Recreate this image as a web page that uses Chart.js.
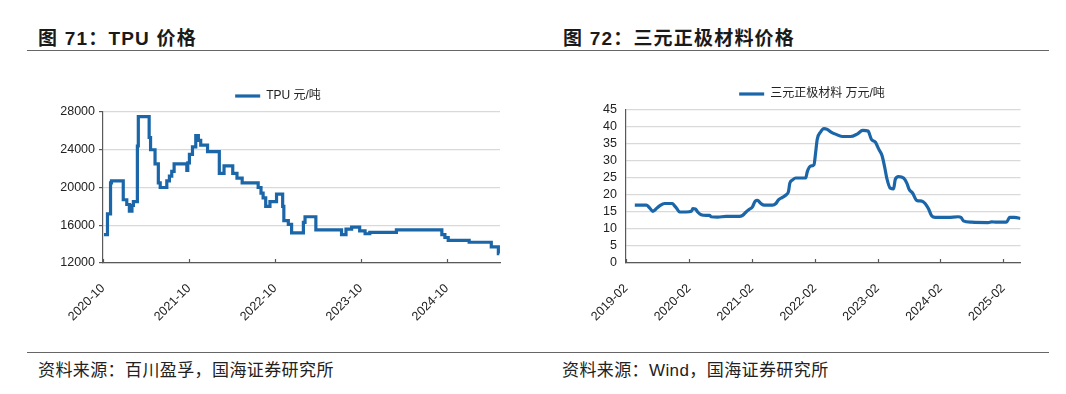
<!DOCTYPE html>
<html>
<head>
<meta charset="utf-8">
<script src="https://cdn.jsdelivr.net/npm/chart.js@4/dist/chart.umd.min.js"></script>
<style>
  body { margin: 0; width: 1066px; height: 394px; background: #fff; position: relative; overflow: hidden;
         font-family: "Liberation Sans", Arial, "Noto Sans CJK SC", sans-serif; color: #1a1a1a; }
  .title { position: absolute; top: 23px; font-size: 19px; letter-spacing: 1.2px; font-weight: bold; white-space: nowrap; }
  .rule { position: absolute; left: 27px; width: 1022px; height: 0; border-top: 1.5px solid #666; }
  .source { position: absolute; top: 356px; font-size: 17px; letter-spacing: 0.4px; white-space: nowrap; color: #222; }
  .box { position: absolute; }
</style>
</head>
<body>
<div class="title" style="left:38px">图 71：TPU 价格</div>
<div class="title" style="left:563px">图 72：三元正极材料价格</div>
<div class="rule" style="top:50px"></div>
<div class="rule" style="top:352px"></div>
<div class="source" style="left:38px">资料来源：百川盈孚，国海证券研究所</div>
<div class="source" style="left:562px">资料来源：Wind，国海证券研究所</div>

<div class="box" style="left:30px;top:83px;width:490px;height:242px"><canvas id="tpuChart"></canvas></div>
<div class="box" style="left:572px;top:84px;width:452px;height:241px"><canvas id="nmcChart"></canvas></div>

<script>
// TPU price, yuan/ton (value holds from the date until the next one)
const tpuDates = [
  "2020-10-05", "2020-10-20", "2020-11-02", "2020-11-06", "2020-12-26", "2021-01-10", "2021-01-21",
  "2021-02-01", "2021-02-07", "2021-02-24", "2021-02-28", "2021-04-15", "2021-04-21", "2021-05-10",
  "2021-05-24", "2021-06-01", "2021-06-29", "2021-07-10", "2021-07-20", "2021-07-30", "2021-09-22",
  "2021-09-26", "2021-10-03", "2021-10-16", "2021-10-30", "2021-11-10", "2021-11-20", "2021-12-19",
  "2022-02-07", "2022-02-27", "2022-04-05", "2022-04-23", "2022-05-15", "2022-07-22", "2022-08-03",
  "2022-08-12", "2022-08-23", "2022-09-10", "2022-10-08", "2022-11-03", "2022-11-08", "2022-11-27",
  "2022-12-11", "2023-01-30", "2023-02-06", "2023-03-24", "2023-07-11", "2023-07-30", "2023-08-23",
  "2023-09-26", "2023-10-19", "2023-11-08", "2024-03-01", "2024-09-10", "2024-09-23", "2024-10-07",
  "2025-01-04", "2025-04-08", "2025-05-08", "2025-05-12"
];
const tpuPrices = [
  15000, 17200, 20500, 20700, 18700, 18200, 17500,
  18100, 18500, 24400, 27500, 25300, 24000, 22500,
  20500, 20000, 20700, 21200, 21700, 22500, 21800,
  22600, 23500, 24300, 25500, 25000, 24500, 23800,
  21500, 22300, 21500, 21000, 20500, 20000, 19400,
  18900, 18000, 18500, 19300, 18000, 16500, 16100,
  15200, 16300, 16900, 15500, 15000, 15600, 15800,
  15400, 15100, 15250, 15500, 15000, 14700, 14400,
  14200, 13700, 13000, 13000
];
const tpuTickLabels = ["2020-10", "2021-10", "2022-10", "2023-10", "2024-10"];

// NCM cathode material price, 10k yuan/ton
const nmcDates = [
  "2019-03-24", "2019-05-30", "2019-06-18", "2019-07-07", "2019-07-17", "2019-07-27", "2019-08-15",
  "2019-09-13", "2019-10-28", "2019-11-10", "2019-11-23", "2019-12-09", "2020-01-17", "2020-02-15",
  "2020-02-24", "2020-03-11", "2020-03-24", "2020-04-13", "2020-05-12", "2020-06-01", "2020-06-10",
  "2020-07-18", "2020-09-05", "2020-11-21", "2020-12-10", "2020-12-30", "2021-01-18", "2021-02-05",
  "2021-02-21", "2021-03-06", "2021-03-26", "2021-04-14", "2021-06-01", "2021-06-21", "2021-07-06",
  "2021-07-29", "2021-08-18", "2021-09-02", "2021-09-10", "2021-09-25", "2021-10-14", "2021-12-11",
  "2021-12-20", "2022-01-09", "2022-01-28", "2022-02-07", "2022-02-16", "2022-03-08", "2022-03-27",
  "2022-04-15", "2022-05-05", "2022-06-02", "2022-07-11", "2022-08-28", "2022-10-05", "2022-11-07",
  "2022-12-08", "2022-12-27", "2023-01-20", "2023-02-08", "2023-02-27", "2023-03-14", "2023-03-27",
  "2023-04-16", "2023-05-05", "2023-05-15", "2023-06-03", "2023-07-02", "2023-07-21", "2023-08-04",
  "2023-08-23", "2023-09-17", "2023-10-16", "2023-11-04", "2023-11-23", "2023-12-13", "2024-01-02",
  "2024-03-18", "2024-05-15", "2024-06-01", "2024-06-14", "2024-08-01", "2024-11-05", "2024-11-25",
  "2024-12-23", "2025-02-19", "2025-03-10", "2025-04-08", "2025-05-11"
];
const nmcPrices = [
  17, 17, 16.2, 15.2, 15.5, 16, 16.8,
  17.5, 17.5, 16.8, 16, 15, 15, 15.2,
  16, 15.9, 15, 14.2, 14, 14, 13.6,
  13.5, 13.7, 13.7, 14, 15, 15.8, 16.5,
  18.2, 18.4, 17.5, 17, 17, 17.5, 18.6,
  19.3, 20, 21, 23.5, 24.4, 25, 25,
  26.8, 28.5, 28.9, 32.6, 36.4, 38.6, 39.5,
  39.3, 38.6, 37.9, 37.2, 37.2, 37.9, 39,
  38.8, 36.4, 35.5, 33.5, 31.6, 28.3, 24.9,
  22, 21.8, 24.6, 25.4, 25, 23.5, 21.6,
  20.6, 18.4, 18.2, 17.5, 16, 13.8, 13.4,
  13.4, 13.6, 13.4, 12.4, 12, 11.9, 12.1,
  12, 12, 13.4, 13.4, 13.1
];
const nmcTickLabels = ["2019-02", "2020-02", "2021-02", "2022-02", "2023-02", "2024-02", "2025-02"];

const lineBlue = "#1b66a8";
const axisGray = "#595959";
const gridGray = "#d9d9d9";
const fontFamily = '"Liberation Sans", Arial, "Noto Sans CJK SC", sans-serif';

const monthStart = [0, 31, 59, 90, 120, 151, 181, 212, 243, 273, 304, 334];
function toYear(s) {
  const [y, m, d] = s.split("-").map(Number);
  return y + (monthStart[m - 1] + (d || 1) - 1) / 365;
}

// short tick marks pointing up into the plot from the x axis
const innerTicks = {
  id: "innerTicks",
  afterDraw(chart) {
    const ctx = chart.ctx;
    const xs = chart.scales.x;
    const bottom = chart.chartArea.bottom;
    ctx.save();
    ctx.strokeStyle = axisGray;
    ctx.lineWidth = 1.2;
    xs.ticks.forEach(t => {
      const px = Math.round(xs.getPixelForValue(t.value)) + 0.5;
      ctx.beginPath();
      ctx.moveTo(px, bottom);
      ctx.lineTo(px, bottom - 4);
      ctx.stroke();
    });
    ctx.restore();
  }
};

function makeChart(id, opts) {
  const tickValues = opts.tickLabels.map(toYear);
  const points = opts.dates.map((d, i) => ({ x: toYear(d), y: opts.values[i] }));
  return new Chart(document.getElementById(id), {
    type: "line",
    data: {
      datasets: [{
        label: opts.label,
        data: points,
        borderColor: lineBlue,
        backgroundColor: lineBlue,
        borderWidth: 3.2,
        pointRadius: 0,
        stepped: opts.stepped,
        cubicInterpolationMode: "monotone",
        tension: opts.stepped ? 0 : 0.4
      }]
    },
    options: {
      responsive: true,
      maintainAspectRatio: false,
      animation: false,
      layout: { padding: opts.padding },
      plugins: {
        tooltip: { enabled: false },
        legend: {
          labels: {
            usePointStyle: true,
            pointStyle: "line",
            pointStyleWidth: 25,
            padding: opts.legendPadding,
            color: "#222",
            font: { family: fontFamily, size: 12 }
          }
        }
      },
      scales: {
        x: {
          type: "linear",
          min: toYear(opts.xMin),
          max: toYear(opts.xMax),
          afterBuildTicks: s => { s.ticks = tickValues.map(v => ({ value: v })); },
          afterFit: s => { s.height = 62; },
          grid: {
            display: true,
            drawOnChartArea: false,
            drawTicks: true,
            tickLength: 8,
            tickColor: "rgba(0,0,0,0)",
            color: "rgba(0,0,0,0)"
          },
          border: { color: axisGray, width: 1.2 },
          ticks: {
            autoSkip: false,
            minRotation: 45,
            maxRotation: 45,
            padding: 10,
            color: "#222",
            font: { family: fontFamily, size: 12.5 },
            callback: v => {
              const i = tickValues.findIndex(t => Math.abs(t - v) < 1e-6);
              return i >= 0 ? opts.tickLabels[i] : "";
            }
          }
        },
        y: {
          min: opts.yMin,
          max: opts.yMax,
          afterFit: s => { s.width = opts.yWidth; },
          grid: {
            color: gridGray,
            lineWidth: 1.2,
            drawTicks: opts.yTicks,
            tickLength: 4,
            tickColor: axisGray
          },
          border: { color: axisGray, width: 1.2 },
          ticks: {
            stepSize: opts.yStep,
            autoSkip: false,
            padding: opts.yTicks ? 4 : 9,
            color: "#222",
            font: { family: fontFamily, size: 12.5 },
            callback: v => String(v)
          }
        }
      }
    },
    plugins: [innerTicks]
  });
}

makeChart("tpuChart", {
  label: "TPU 元/吨",
  dates: tpuDates,
  values: tpuPrices,
  tickLabels: tpuTickLabels,
  stepped: true,
  xMin: "2020-10-01",
  xMax: "2025-05-15",
  yMin: 12000, yMax: 28000, yStep: 4000,
  yWidth: 47, yTicks: true,
  legendPadding: 7,
  padding: { left: 26, right: 20, top: 0, bottom: 0 }
});

makeChart("nmcChart", {
  label: "三元正极材料 万元/吨",
  dates: nmcDates,
  values: nmcPrices,
  tickLabels: nmcTickLabels,
  stepped: false,
  xMin: "2019-02-01",
  xMax: "2025-05-12",
  yMin: 0, yMax: 45, yStep: 5,
  yWidth: 24, yTicks: false,
  legendPadding: 4,
  padding: { left: 30, right: 2, top: 0, bottom: 0 }
});
</script>
</body>
</html>
